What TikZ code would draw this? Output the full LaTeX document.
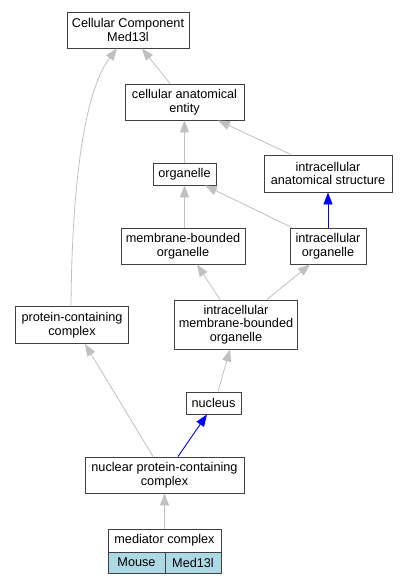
\documentclass[tikz,border=0pt]{standalone}
\usepackage{fontspec}
\setmainfont{Liberation Sans}
\usetikzlibrary{arrows.meta}
\definecolor{edgegray}{RGB}{192,192,192}
\definecolor{cellblue}{RGB}{173,216,230}
\definecolor{boxline}{RGB}{64,64,64}
\begin{document}
\begin{tikzpicture}[x=1pt,y=-1pt,
  box/.style={draw=boxline, line width=0.9pt, fill=white, align=center, inner sep=0pt,
    font=\fontsize{12.7}{13.6}\selectfont},
  isa/.style={draw=edgegray, line width=0.8pt, -{Triangle[length=12pt,width=9pt,fill=edgegray]}},
  bisa/.style={draw=blue, line width=0.9pt, -{Triangle[length=12pt,width=9pt,fill=blue]}}]
\useasboundingbox (0,0) rectangle (408,584);
\node[box, minimum width=122pt, minimum height=36pt] (cc) at (128,30) {Cellular Component\\Med13l};
\node[box, minimum width=119pt, minimum height=36pt] (cae) at (184.5,102) {cellular anatomical\\entity};
\node[box, minimum width=63pt, minimum height=22pt] (org) at (184.5,174) {organelle};
\node[box, minimum width=128pt, minimum height=37pt] (ias) at (328,173.5) {intracellular\\anatomical structure};
\node[box, minimum width=124pt, minimum height=36pt] (mbo) at (183,246) {membrane-bounded\\organelle};
\node[box, minimum width=76pt, minimum height=36pt] (io) at (328,246) {intracellular\\organelle};
\node[box, minimum width=113pt, minimum height=37pt] (pcc) at (72,325) {protein-containing\\complex};
\node[box, minimum width=123pt, minimum height=49pt] (imbo) at (236,324.5) {intracellular\\membrane-bounded\\organelle};
\node[box, minimum width=55pt, minimum height=22pt] (nuc) at (213.5,403) {nucleus};
\node[box, minimum width=159pt, minimum height=36pt] (npcc) at (164.5,475) {nuclear protein-containing\\complex};
\node[box, minimum width=113pt, minimum height=23pt] (med) at (164.5,540.5) {mediator complex};
\node[box, fill=cellblue, minimum width=57pt, minimum height=21pt] (mouse) at (136.5,562.5) {Mouse};
\node[box, fill=cellblue, minimum width=56pt, minimum height=21pt] (gene) at (193,562.5) {Med13l};

\draw[isa] ([xshift=-14.5pt]cae.north) -- ([xshift=14pt]cc.south);
\draw[isa] ([xshift=-1pt]pcc.north) .. controls (72,180) and (85,90) .. ([xshift=-11pt]cc.south);
\draw[isa] (org.north) -- (cae.south);
\draw[isa] ([xshift=-37pt]ias.north) -- ([xshift=33.5pt]cae.south);
\draw[isa] (mbo.north -| org.south) -- (org.south);
\draw[isa] ([xshift=-36pt]io.north) -- ([xshift=20.5pt]org.south);
\draw[bisa] (io.north) -- (ias.south);
\draw[isa] ([xshift=-16pt]imbo.north) -- ([xshift=14pt]mbo.south);
\draw[isa] ([xshift=31pt]imbo.north) -- ([xshift=-18pt]io.south);
\draw[isa] ([xshift=-11.5pt]npcc.north) -- ([xshift=13pt]pcc.south);
\draw[bisa] ([xshift=13.5pt]npcc.north) -- ([xshift=-6.5pt]nuc.south);
\draw[isa] ([xshift=4.5pt]nuc.north) -- ([xshift=-6pt]imbo.south);
\draw[isa] (med.north) -- (npcc.south);
\end{tikzpicture}
\end{document}
